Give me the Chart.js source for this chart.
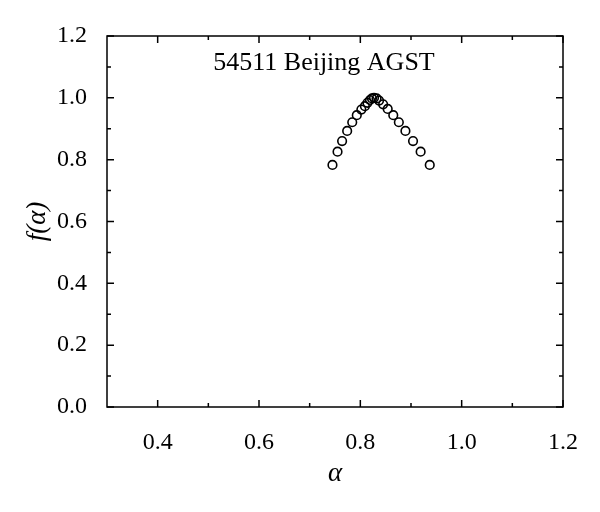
<!DOCTYPE html>
<html>
<head>
<meta charset="utf-8">
<script src="https://cdn.jsdelivr.net/npm/chart.js@4"></script>
<style>
  html, body { margin: 0; padding: 0; background: #fff; }
  #wrap { width: 600px; height: 512px; }
</style>
</head>
<body>
<div id="wrap"><canvas id="grafico"></canvas></div>
<script>
// valores
const alfa = [0.745, 0.755, 0.764, 0.774, 0.784, 0.793, 0.802, 0.809, 0.814, 0.819, 0.823,
              0.827, 0.832, 0.837, 0.845, 0.854, 0.865, 0.876, 0.889, 0.904, 0.919, 0.937];
const fAlfa = [0.783, 0.826, 0.860, 0.893, 0.921, 0.944, 0.962, 0.973, 0.984, 0.993, 0.998,
               1.000, 0.998, 0.991, 0.979, 0.964, 0.944, 0.921, 0.893, 0.860, 0.826, 0.783];
const ticksX = [0.4, 0.6, 0.8, 1.0, 1.2];
const ticksY = [0.0, 0.2, 0.4, 0.6, 0.8, 1.0, 1.2];
const menoresX = [0.5, 0.7, 0.9, 1.1];
const menoresY = [0.1, 0.3, 0.5, 0.7, 0.9, 1.1];
const titulo = '54511 Beijing AGST';

const fonte = 'Liberation Serif';

// moldura com marcas para dentro nos quatro lados
const moldura = {
    id: 'moldura',
    afterDraw(chart) {
        const ctx = chart.ctx;
        const a = chart.chartArea;
        const sx = chart.scales.x, sy = chart.scales.y;
        ctx.save();
        ctx.strokeStyle = '#000';
        ctx.lineWidth = 1.5;
        ctx.strokeRect(a.left, a.top, a.right - a.left, a.bottom - a.top);
        ctx.beginPath();
        const marcaX = (v, len) => {
            const p = sx.getPixelForValue(v);
            ctx.moveTo(p, a.bottom); ctx.lineTo(p, a.bottom - len);
            ctx.moveTo(p, a.top); ctx.lineTo(p, a.top + len);
        };
        const marcaY = (v, len) => {
            const p = sy.getPixelForValue(v);
            ctx.moveTo(a.left, p); ctx.lineTo(a.left + len, p);
            ctx.moveTo(a.right, p); ctx.lineTo(a.right - len, p);
        };
        ticksX.forEach(v => marcaX(v, 7));
        menoresX.forEach(v => marcaX(v, 4));
        ticksY.forEach(v => marcaY(v, 7));
        menoresY.forEach(v => marcaY(v, 4));
        ctx.stroke();

        ctx.fillStyle = '#000';
        ctx.font = '26px "' + fonte + '"';
        ctx.textAlign = 'center';
        ctx.textBaseline = 'middle';
        ctx.fillText(titulo, a.left + 217, a.top + 27);
        ctx.restore();
    }
};

const config = {
    type: 'scatter',
    data: {
        datasets: [{
            data: alfa.map((x, i) => ({ x: x, y: fAlfa[i] })),
            pointStyle: 'circle',
            pointRadius: 4.3,
            pointBorderWidth: 1.6,
            pointBorderColor: '#000',
            pointBackgroundColor: 'rgba(0,0,0,0)',
            showLine: false
        }]
    },
    options: {
        responsive: true,
        maintainAspectRatio: false,
        animation: false,
        layout: { padding: { top: 36, right: 37, left: 0, bottom: 0 } },
        plugins: { legend: { display: false }, tooltip: { enabled: false } },
        scales: {
            x: {
                type: 'linear',
                min: 0.3,
                max: 1.2,
                grid: { display: false },
                border: { display: false },
                afterBuildTicks: (s) => { s.ticks = ticksX.map(v => ({ value: v })); },
                afterFit: (s) => { s.height = 105; },
                ticks: {
                    color: '#000',
                    padding: 13,
                    maxRotation: 0,
                    font: { family: fonte, size: 24 },
                    callback: (v) => Number(v).toFixed(1)
                },
                title: {
                    display: true,
                    text: 'α',
                    color: '#000',
                    padding: { bottom: 22 },
                    font: { family: fonte, size: 27, style: 'italic' }
                }
            },
            y: {
                type: 'linear',
                min: 0,
                max: 1.2,
                grid: { display: false },
                border: { display: false },
                afterBuildTicks: (s) => { s.ticks = ticksY.map(v => ({ value: v })); },
                afterFit: (s) => { s.width = 107; },
                ticks: {
                    color: '#000',
                    padding: 12,
                    font: { family: fonte, size: 24 },
                    callback: (v) => Number(v).toFixed(1)
                },
                title: {
                    display: true,
                    text: 'f(α)',
                    color: '#000',
                    padding: { top: 22 },
                    font: { family: fonte, size: 27, style: 'italic' }
                }
            }
        }
    },
    plugins: [moldura]
};

const grafico = new Chart(document.getElementById('grafico'), config);
</script>
</body>
</html>
